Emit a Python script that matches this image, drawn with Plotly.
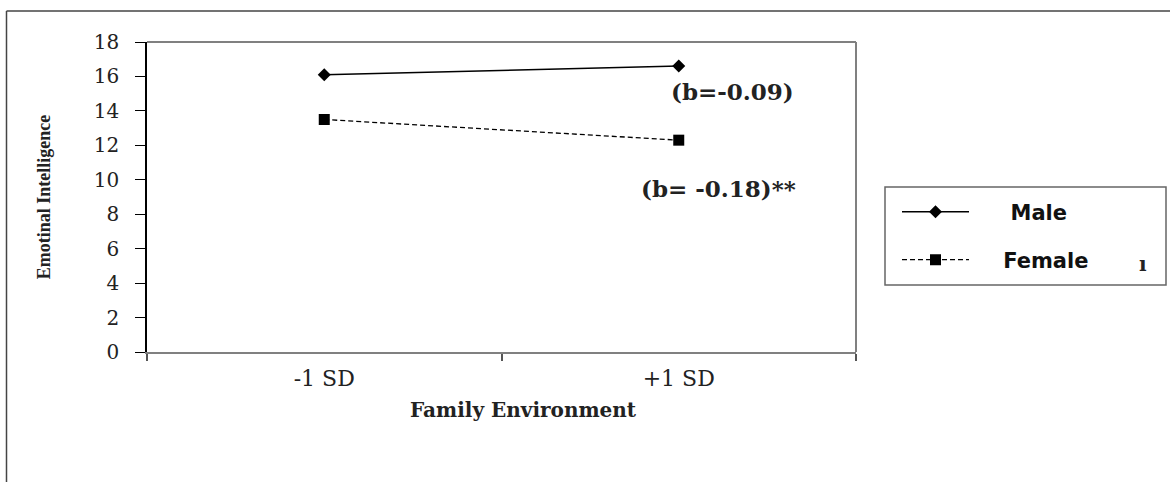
import plotly.graph_objects as go

categories = ["-1 SD", "+1 SD"]
male = [16.1, 16.6]
female = [13.5, 12.3]
y_ticks = [0, 2, 4, 6, 8, 10, 12, 14, 16, 18]

W, H = 1170, 482
L, R, T, B = 147, 314, 42, 130
pw, ph = W - L - R, H - T - B

def px_x(x):
    return (x - L) / pw

def px_y(y):
    return (H - B - y) / ph

fig = go.Figure()
fig.add_trace(go.Scatter(
    x=categories, y=male, name="\u00a0\u00a0\u00a0\u00a0\u00a0Male", mode="lines+markers",
    line=dict(color="black", width=1.5),
    marker=dict(symbol="diamond", size=10, color="black"),
    legend="legend",
))
fig.add_trace(go.Scatter(
    x=categories, y=female, name="\u00a0\u00a0\u00a0\u00a0Female", mode="lines+markers",
    line=dict(color="black", width=1.3, dash="5px,3px"),
    marker=dict(symbol="square", size=11, color="black"),
    legend="legend2",
))

serif = "DejaVu Serif"
leg_font = dict(family="DejaVu Sans", size=21, color="#111", weight="bold")
fig.update_layout(
    width=W, height=H,
    margin=dict(l=L, r=R, t=T, b=B),
    paper_bgcolor="white", plot_bgcolor="white",
    xaxis=dict(
        type="category", range=[-0.5, 1.5], tickson="boundaries",
        ticks="outside", ticklen=7, tickcolor="#555", tickwidth=1.5,
        showline=True, linecolor="#808080", linewidth=2,
        showgrid=False, zeroline=False, ticklabelstandoff=6,
        tickfont=dict(family=serif, size=22, color="#222"),
    ),
    yaxis=dict(
        range=[0, 18], tickvals=y_ticks, ticks="outside", ticklen=10,
        tickcolor="black", tickwidth=1, showline=True, linecolor="black", linewidth=1.5,
        showgrid=False, zeroline=False, ticklabelstandoff=12,
        tickfont=dict(family=serif, size=20, color="#222"),
        title=dict(text="<b>Emotinal Intelligence</b>",
                   font=dict(family="Liberation Serif", size=18, color="#222"), standoff=38),
    ),
    legend=dict(
        x=px_x(897), y=px_y(212), xanchor="left", yanchor="middle",
        bgcolor="rgba(0,0,0,0)", borderwidth=0, itemwidth=67,
        font=leg_font,
    ),
    legend2=dict(
        x=px_x(897), y=px_y(260), xanchor="left", yanchor="middle",
        bgcolor="rgba(0,0,0,0)", borderwidth=0, itemwidth=67,
        font=leg_font,
    ),
    showlegend=True,
)

shapes = [
    dict(type="line", xref="paper", yref="paper", x0=0, x1=1, y0=1, y1=1,
         line=dict(color="#808080", width=2)),
    dict(type="line", xref="paper", yref="paper", x0=1, x1=1, y0=0, y1=1,
         line=dict(color="#808080", width=2)),
    dict(type="rect", xref="paper", yref="paper",
         x0=px_x(885), x1=px_x(1166), y0=px_y(285), y1=px_y(187),
         line=dict(color="#666", width=1.5)),
    dict(type="line", xref="paper", yref="paper", x0=px_x(6.5), x1=px_x(6.5),
         y0=px_y(500), y1=px_y(11), line=dict(color="#444", width=1.5)),
    dict(type="line", xref="paper", yref="paper", x0=px_x(6.5), x1=px_x(1180),
         y0=px_y(11), y1=px_y(11), line=dict(color="#444", width=1.5)),
]
fig.update_layout(shapes=shapes)

fig.add_annotation(x=px_x(523), y=px_y(410), xref="paper", yref="paper",
                   text="<b>Family Environment</b>", showarrow=False,
                   xanchor="center", yanchor="middle",
                   font=dict(family=serif, size=20, color="#222"))
fig.add_annotation(x=1, y=male[1], xref="x", yref="y", text="<b>(b=-0.09)</b>",
                   showarrow=False, xanchor="center", yanchor="middle", xshift=54, yshift=-25,
                   font=dict(family=serif, size=23, color="#222"))
fig.add_annotation(x=1, y=female[1], xref="x", yref="y", text="<b>(b= -0.18)**</b>",
                   showarrow=False, xanchor="center", yanchor="middle", xshift=40, yshift=-48,
                   font=dict(family=serif, size=23, color="#222"))
fig.add_annotation(x=px_x(1143), y=px_y(264), xref="paper", yref="paper", text="<b>ı</b>",
                   showarrow=False, xanchor="center", yanchor="middle",
                   font=dict(family=serif, size=20, color="#222"))

fig.write_html("out.html", post_script="document.body.style.margin='0';",
               config={"displayModeBar": False})
